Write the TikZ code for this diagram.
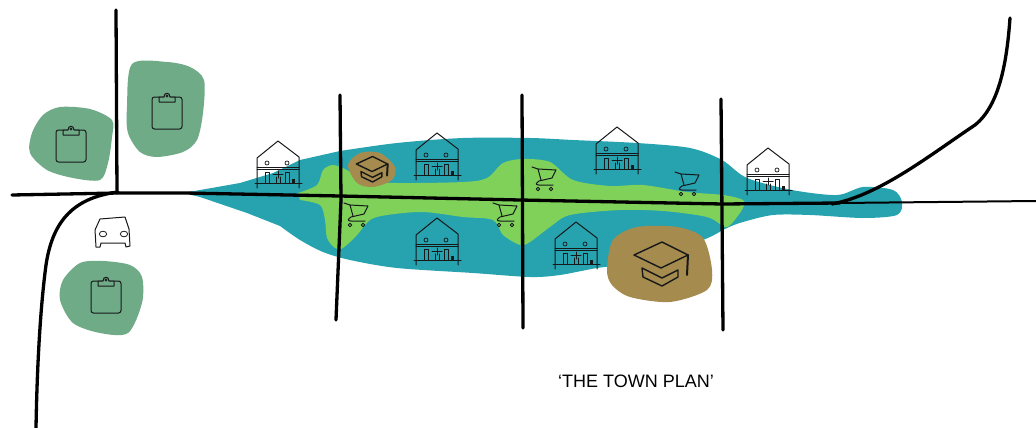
\documentclass[tikz,border=0pt]{standalone}
\usepackage{fontspec}
\setmainfont{Liberation Sans}
\definecolor{ink}{RGB}{22,24,26}
\definecolor{water}{RGB}{39,163,176}
\definecolor{corridor}{RGB}{127,209,90}
\definecolor{reserve}{RGB}{111,171,135}
\definecolor{campus}{RGB}{166,139,78}
\usetikzlibrary{positioning}
\tikzset{
  road/.style={line width=3.3pt, black, line cap=round, line join=round},
  sketch/.style={ink, line width=1pt, line cap=round, line join=round},
  zone/.style={smooth cycle, tension=0.5},
  house/.pic={
    \draw[sketch] (-21,47) -- (-21,17) -- (0,0) -- (21,16) -- (21,47);
    \draw[sketch] (-21,26) -- (21,26) (-21,28) -- (21,28);
    \draw[sketch] (-23,42) -- (24,42);
    \draw[sketch, line width=0.7pt] (-11,22) circle (2) (9,22) circle (2);
    \draw[sketch] (-13,42) -- (-13,31) -- (-9,31) -- (-9,42);
    \draw[sketch] (7,42) -- (7,31) -- (11,31) -- (11,42);
    \draw[sketch] (-2,42) -- (-2,36) (2,42) -- (2,36) (-5,33) -- (5,33) (0,30) -- (0,37);
    \fill[ink] (14,42) rectangle (17,38);
  },
  cart/.pic={
    \draw[sketch] (0,0) -- (6,2) -- (24,3) -- (20,11) -- (7,14)
      .. controls (4,16) and (3,18) .. (7,18) -- (21,18);
    \draw[sketch] (6,2) -- (9,13);
    \draw[sketch, line width=0.8pt] (6,22) circle (1.8) (19,22) circle (1.8);
  },
  clipboard/.pic={
    \draw[sketch, rounded corners=2.5pt] (-15,-15) rectangle (15,17);
    \draw[sketch, fill=reserve] (-8,-15) -- (-8,-10) -- (8,-10) -- (8,-15) -- (3,-15)
      .. controls (3,-20) and (-3,-20) .. (-3,-15) -- cycle;
    \draw[sketch, line width=0.7pt] (0,-16) circle (1.2);
  },
  gradcap/.pic={
    \draw[sketch, line width=1.4pt] (-27,0) -- (1,-13) -- (27,0) -- (0,13) -- cycle;
    \draw[sketch, line width=1.4pt] (-19,13) -- (1,23) -- (17,15) -- (17,22) -- (1,31) -- (-18,22) -- cycle;
    \draw[sketch, line width=2pt] (27,0) -- (26,20);
  },
  car/.pic={
    \draw[sketch] (-13,-13) -- (12,-15) -- (16,-3) -- (17,14) -- (13,15) -- (12,11)
      -- (-12,11) -- (-13,15) -- (-17,15) -- (-18,-2) -- cycle;
    \draw[sketch, line width=0.8pt] (-10,2) ellipse (3.7 and 2.8) (11,2) ellipse (3.7 and 2.8);
  },
}

\begin{document}
\begin{tikzpicture}[x=1pt,y=-1pt]
  \useasboundingbox (0,0) rectangle (1036,428);
  \fill[reserve] plot[zone] coordinates {(30,153) (32,133) (43,115) (60,107) (90,109) (112,120) (112,137) (108,163) (100,180) (73,178) (47,170)};
  \fill[reserve] plot[zone] coordinates {(132,64) (167,62) (190,67) (204,80) (203,113) (197,140) (183,152) (157,157) (140,152) (128,133) (127,107)};
  \fill[reserve] plot[zone] coordinates {(60,300) (63,280) (80,263) (103,261) (130,265) (142,277) (142,303) (128,333) (100,333) (73,323)};
  \fill[water] (183,193) -- (240,183) -- (273,173) -- (300,160) -- (340,151) -- plot[smooth, tension=0.5] coordinates {(340,151) (397,143) (463,138) (530,138) (573,140) (637,143) (690,148) (722,160) (747,178) (792,190) (837,195) (863,187) (893,190) (902,202) (897,215) (863,218) (810,215) (773,215) (743,222) (727,228) (703,240) (640,262) (597,268) (560,275) (530,277) (473,273) (397,268) (350,260) (323,252) (300,240) (280,226)} -- (247,213) -- (200,197) -- cycle;
  \fill[corridor] (298,193) -- plot[smooth, tension=0.5] coordinates {(298,193) (317,185) (323,170) (333,165) (347,170) (365,180) (397,183) (463,182) (487,178) (503,163) (523,159) (550,162) (573,180) (610,186) (643,185) (687,192) (723,195) (743,200) (743,208) (733,222) (725,227) (707,217) (663,211) (620,210) (570,215) (550,227) (530,242) (520,245) (503,235) (493,220) (463,217) (423,212) (387,215) (370,220) (357,235) (343,248) (335,248) (327,238) (325,220) (320,205) (300,200)} -- cycle;
  \fill[campus] plot[zone] coordinates {(348,165) (360,153) (380,153) (395,167) (392,180) (373,187) (357,183)};
  \fill[campus] plot[zone] coordinates {(607,270) (613,240) (637,227) (677,227) (703,238) (712,270) (707,290) (670,302) (630,297) (612,285)};
  \draw[road] (12,195) -- (118,193) -- (185,193) -- (340,196) -- (520,200) -- (722,204) -- (840,203);
  \draw[road, line width=2pt] (840,203) -- (1036,201);
  \draw[road] (116,10) -- (117,193);
  \draw[road] (118,192) .. controls (70,198) and (52,225) .. (46,265) .. controls (40,310) and (37,370) .. (36,428);
  \draw[road] (340,95) -- (341,200) -- (336,320);
  \draw[road] (522,95) -- (523,328);
  \draw[road] (721,99) -- (723,330);
  \draw[road] (832,204) .. controls (880,195) and (930,155) .. (975,125) .. controls (1000,105) and (1007,60) .. (1010,18);
  \pic at (71,145) {clipboard};
  \pic at (167,112) {clipboard};
  \pic at (106,296) {clipboard};
  \pic at (113,232) {car};
  \pic at (278,141) {house};
  \pic at (437,133) {house};
  \pic at (617,127) {house};
  \pic at (768,148) {house};
  \pic at (437,218) {house};
  \pic at (576,222) {house};
  \pic at (532,167) {cart};
  \pic at (344,203) {cart};
  \pic at (493,203) {cart};
  \pic at (675,172) {cart};
  \pic[scale=0.58] at (372,164) {gradcap};
  \pic at (661,255) {gradcap};
  \node[font=\fontsize{18}{20}\selectfont, inner sep=0pt] (title) at (636,381) {‘THE TOWN PLAN’};
\end{tikzpicture}
\end{document}
